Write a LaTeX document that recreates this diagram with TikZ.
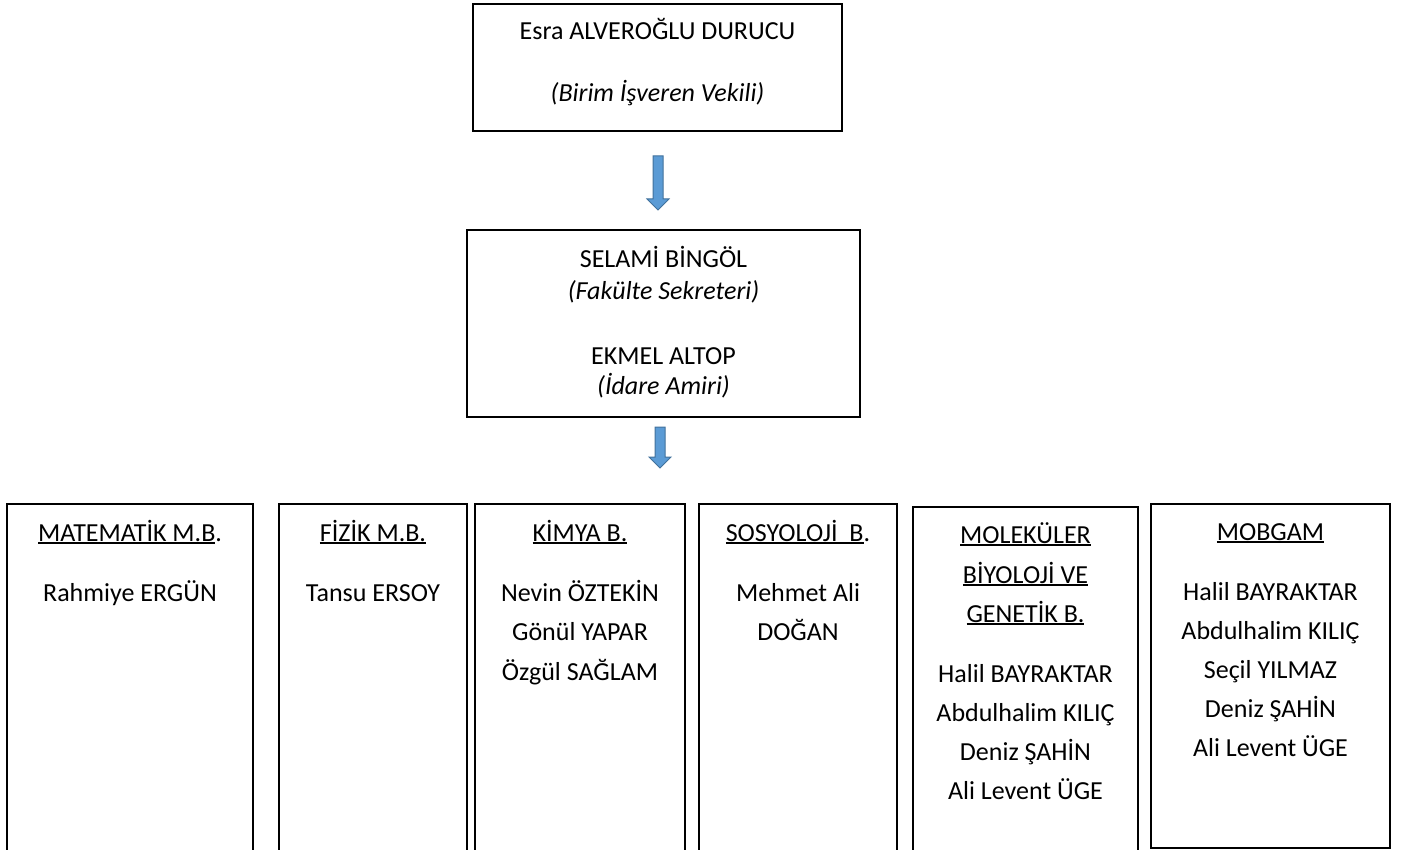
\documentclass[tikz,border=0pt]{standalone}
\usepackage{fontspec}
\setmainfont{Carlito}
\usetikzlibrary{calc}
\definecolor{afill}{HTML}{5B9BD5}
\definecolor{adraw}{HTML}{41719C}
\newcommand{\myul}[1]{\setbox0\hbox{#1}\rlap{\rule[-2.8pt]{\wd0}{1.6pt}}\box0}
\newcommand{\blkarrow}[2]{\draw[barrow] ($(#1)+(-5,0)$) -- ($(#1)+(5,0)$) -- ($(#2)+(5,-11)$) -- ($(#2)+(11,-11)$) -- (#2) -- ($(#2)+(-11,-11)$) -- ($(#2)+(-5,-11)$) -- cycle;}
\begin{document}
\begin{tikzpicture}[x=1pt,y=-1pt,
  box/.style={draw=black, line width=1.2pt, inner sep=0pt, outer sep=0pt},
  txt/.style={inner sep=0pt, anchor=base, font=\fontsize{26}{31}\selectfont},
  itxt/.style={inner sep=0pt, anchor=base, font=\fontsize{26}{31}\selectfont\itshape},
  barrow/.style={fill=afill, draw=adraw, line width=1pt, line join=miter}]
\useasboundingbox (0,0) rectangle (1401,850);
\clip (0,0) rectangle (1401,850);

% boxes
\node[box, minimum width=369pt, minimum height=127pt] (top) at (657.5,67.5) {};
\node[box, minimum width=393pt, minimum height=187pt] (mid) at (663.5,323.5) {};
\node[box, minimum width=246pt, minimum height=380pt] (b1) at (130,694) {};
\node[box, minimum width=188pt, minimum height=380pt] (b2) at (373,694) {};
\node[box, minimum width=210pt, minimum height=380pt] (b3) at (580,694) {};
\node[box, minimum width=198pt, minimum height=380pt] (b4) at (798,694) {};
\node[box, minimum width=225pt, minimum height=377pt] (b5) at (1025.5,695.5) {};
\node[box, minimum width=239pt, minimum height=344pt] (b6) at (1270.5,676) {};

% top texts
\node[txt] (t1) at (657.5,40) {Esra ALVEROĞLU DURUCU};
\node[itxt] (t2) at (657.5,102) {(Birim İşveren Vekili)};
\node[txt] (m1) at (663.5,268) {SELAMİ BİNGÖL};
\node[itxt] (m2) at (663.5,300) {(Fakülte Sekreteri)};
\node[txt] (m3) at (663.5,365) {EKMEL ALTOP};
\node[itxt] (m4) at (663.5,395) {(İdare Amiri)};

% arrows
\coordinate (a1t) at ($(top.south)+(0.5,25)$);
\coordinate (a1b) at ($(mid.north)+(-5.5,-20)$);
\blkarrow{a1t}{a1b}
\coordinate (a2t) at ($(mid.south)+(-3.5,10)$);
\coordinate (a2b) at ($(mid.south)+(-3.5,51)$);
\blkarrow{a2t}{a2b}

% bottom titles
\node[txt] (h1) at (130,541) {\myul{MATEMATİK M.B}.};
\node[txt] (h2) at (373,541) {\myul{FİZİK M.B.}};
\node[txt] (h3) at (580,541) {\myul{KİMYA B.}};
\node[txt] (h4) at (798,541) {\myul{SOSYOLOJİ\ \ B}.};
\node[txt] (h5a) at (1025.5,543) {\myul{MOLEKÜLER}};
\node[txt] (h5b) at (1025.5,583) {\myul{BİYOLOJİ VE}};
\node[txt] (h5c) at (1025.5,622) {\myul{GENETİK B.}};
\node[txt] (h6) at (1270.5,540) {\myul{MOBGAM}};

% names
\node[txt] (n1) at (130,601) {Rahmiye ERGÜN};
\node[txt] (n2) at (373,601) {Tansu ERSOY};
\foreach \t [count=\i] in {Nevin ÖZTEKİN, Gönül YAPAR, Özgül SAĞLAM}
  \node[txt] (n3\i) at (580,{601+39.5*(\i-1)}) {\t};
\foreach \t [count=\i] in {Mehmet Ali, DOĞAN}
  \node[txt] (n4\i) at (798,{601+39.5*(\i-1)}) {\t};
\foreach \t [count=\i] in {Halil BAYRAKTAR, Abdulhalim KILIÇ, Deniz ŞAHİN, Ali Levent ÜGE}
  \node[txt] (n5\i) at (1025.5,{682+39*(\i-1)}) {\t};
\foreach \t [count=\i] in {Halil BAYRAKTAR, Abdulhalim KILIÇ, Seçil YILMAZ, Deniz ŞAHİN, Ali Levent ÜGE}
  \node[txt] (n6\i) at (1270.5,{600+39.2*(\i-1)}) {\t};
\end{tikzpicture}
\end{document}
